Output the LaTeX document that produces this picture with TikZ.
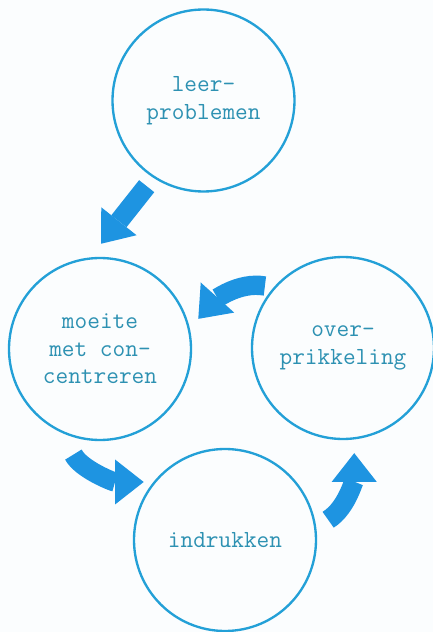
\documentclass[tikz,border=0pt]{standalone}
\usepackage{fontspec}
\usepackage{tikz}
\usetikzlibrary{arrows.meta}
\newcommand{\px}{0.03cm}
\definecolor{ringblue}{RGB}{35,160,215}
\definecolor{arrowblue}{RGB}{30,148,225}
\definecolor{textblue}{RGB}{45,145,178}

\begin{document}
\begin{tikzpicture}[ring/.style={draw=ringblue, circle, line width=2pt, minimum size=182*\px, inner sep=0pt, align=center, text=textblue, font=\ttfamily\fontsize{21}{23.5}\selectfont},
    flow/.style={draw=arrowblue, line width=0.58cm, -{Triangle[length=0.86cm, width=1.35cm, line width=0pt]}}]
    % Background
    \fill[white!98!ringblue] (0,0) rectangle (433*\px,632*\px);
    \useasboundingbox (0,0) rectangle (433*\px,632*\px);

    % Circles
    \node[ring] (circ-top) at (203.5*\px,531.5*\px) {leer-\\problemen};
    \node[ring] (circ-left) at (100*\px,283*\px) {moeite\\met con-\\centreren};
    \node[ring] (circ-right) at (343*\px,284*\px) {over-\\prikkeling};
    \node[ring] (circ-bottom) at (225*\px,92*\px) {indrukken};

    % Arrows
    \draw[flow, shorten <=0.32cm, shorten >=0.52cm] (circ-top.237) -- (circ-left.96);
    \draw[flow, shorten <=0.26cm, shorten >=0.38cm] (circ-right.139) to[out=170, in=48] (circ-left.13.5);
    \draw[flow, shorten <=0.72cm, shorten >=0.29cm] (circ-left.246.5) to[out=-63, in=180] (circ-bottom.141.7);
    \draw[flow, shorten <=0.42cm, shorten >=0.41cm] (circ-bottom.8) to[out=32, in=-90] (circ-right.277.5);

\end{tikzpicture}
\end{document}
